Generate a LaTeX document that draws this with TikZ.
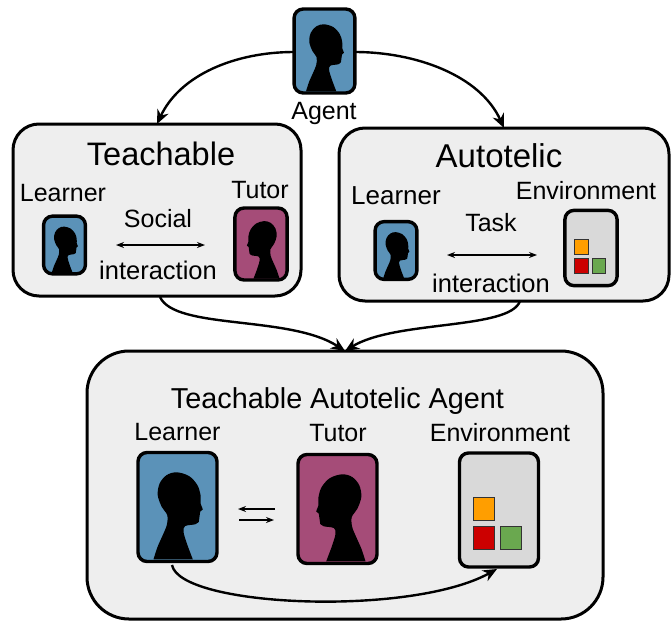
\documentclass[tikz,border=0pt]{standalone}
\usepackage{fontspec}
\setmainfont{Liberation Sans}
\usetikzlibrary{arrows.meta,calc}
\definecolor{learnerblue}{HTML}{5B92B8}
\definecolor{tutorpurple}{HTML}{A54C78}
\definecolor{envgray}{HTML}{D9D9D9}
\definecolor{panelgray}{HTML}{EEEEEE}
\definecolor{cubeorange}{HTML}{FF9E00}
\definecolor{cubered}{HTML}{CC0000}
\definecolor{cubegreen}{HTML}{6AA84F}
\tikzset{
  panel/.style={draw=black,fill=panelgray,line width=3pt,inner sep=0pt,outer sep=0pt},
  card/.style={draw=black,line width=3.4pt,rounded corners=9pt,inner sep=0pt,outer sep=0pt},
  cube/.style={draw=black!80,line width=.9pt,inner sep=0pt,outer sep=0pt},
  lab/.style={anchor=base,inner sep=0pt,font=\fontsize{25}{25}\selectfont},
  flow/.style={line width=2.4pt,-{Stealth[length=14pt,width=12pt]}},
  link/.style={line width=1.5pt,{Stealth[length=8pt,width=6pt]}-{Stealth[length=8pt,width=6pt]}},
  onelink/.style={line width=1.5pt,-{Stealth[length=8pt,width=6pt]}}
}
\newcommand{\headshape}{%
  \fill[black] plot[smooth,tension=.55] coordinates {(-24,52.3) (-20,40) (-14.7,28) (-10.7,18) (-10.3,8) (-15.7,0) (-19.8,-12) (-17.8,-23.7) (-10.7,-32) (-.7,-34.7) (11.5,-31) (19.8,-22) (23,-12) (23,-3.7)}
   -- (25.3,2.3) -- (22.7,4.7) -- plot[smooth,tension=.55] coordinates {(21.3,14.7) (17.7,17.3) (7.7,19) (6,24.7) (9.3,36.3) (15.3,52.3)} -- cycle;}
% name, cx, cy, scale, colour, x-direction
\newcommand{\personcard}[6]{%
  \node[card,fill=#5,minimum width={#4*79pt},minimum height={#4*109pt}] (#1) at (#2,#3) {};
  \begin{scope}[shift={({#2+(1-#6)*2*#4},#3)},xscale={#4*#6},yscale=#4]\headshape\end{scope}%
}
% name, cx, cy, scale
\newcommand{\envcard}[4]{%
  \node[card,fill=envgray,minimum width={#4*79pt},minimum height={#4*114pt}] (#1) at (#2,#3) {};
  \begin{scope}[shift={(#2,#3)},scale=#4]
    \node[cube,fill=cubeorange,minimum width={#4*21pt},minimum height={#4*23pt}] (#1o) at (-15,-1.5) {};
    \node[cube,fill=cubered,minimum width={#4*21pt},minimum height={#4*23pt}] (#1r) at (-15,27.5) {};
    \node[cube,fill=cubegreen,minimum width={#4*21pt},minimum height={#4*23pt}] (#1g) at (12,27.5) {};
  \end{scope}%
}
\begin{document}
\begin{tikzpicture}[x=1pt,y=-1pt]
\useasboundingbox (0,0) rectangle (671,621);
% panels
\node[panel,rounded corners=26pt,minimum width=288pt,minimum height=172pt] (teach) at (157,210) {};
\node[panel,rounded corners=26pt,minimum width=330pt,minimum height=173pt] (auto) at (504,214.5) {};
\node[panel,rounded corners=42pt,minimum width=516pt,minimum height=268pt] (taa) at (345,485) {};
% top
\personcard{agent}{324.5}{51}{.77}{learnerblue}{1}
\node[lab] (agentlab) at (324,119) {Agent};
% teachable
\node[lab,font=\fontsize{32.5}{32.5}\selectfont] (teachlab) at (161,165) {Teachable};
\node[lab] (tl1) at (63,201) {Learner};
\node[lab] (tl2) at (260,198) {Tutor};
\node[lab] (tsoc) at (158,227) {Social};
\node[lab,font=\fontsize{25.5}{25.5}\selectfont] (tint) at (158,279) {interaction};
\personcard{tlearner}{64.5}{245}{.53}{learnerblue}{1}
\personcard{ttutor}{261}{244}{.66}{tutorpurple}{-1}
\coordinate (tla) at (116,245);
\coordinate (tlb) at (205,245);
\draw[link] (tla) -- (tlb);
% autotelic
\node[lab,font=\fontsize{33}{33}\selectfont] (autolab) at (499,167) {Autotelic};
\node[lab,font=\fontsize{26}{26}\selectfont] (al1) at (396,204) {Learner};
\node[lab] (al2) at (586,199) {Environment};
\node[lab] (atask) at (491,231) {Task};
\node[lab,font=\fontsize{25.5}{25.5}\selectfont] (aint) at (491,292) {interaction};
\personcard{alearner}{396}{250.5}{.53}{learnerblue}{1}
\envcard{aenv}{591}{248}{.66}
\coordinate (ala) at (447,255);
\coordinate (alb) at (537,255);
\draw[link] (ala) -- (alb);
% bottom
\node[lab,font=\fontsize{28.8}{28.8}\selectfont] (taalab) at (337.5,408) {Teachable Autotelic Agent};
\node[lab] (bl1) at (177.5,440) {Learner};
\node[lab] (bl2) at (338,441) {Tutor};
\node[lab] (bl3) at (500,441) {Environment};
\personcard{blearner}{177.5}{507}{1}{learnerblue}{1}
\personcard{btutor}{337.5}{509}{1}{tutorpurple}{-1}
\envcard{benv}{499}{510}{1}
\coordinate (bla) at (275,509);
\coordinate (blb) at (238,509);
\coordinate (blc) at (239,520);
\coordinate (bld) at (274,520);
\draw[onelink] (bla) -- (blb);
\draw[onelink] (blc) -- (bld);
% connectors
\draw[flow] (agent.west) ++(0,1) .. controls (235,52) and (180,75) .. (teach.north);
\draw[flow] (agent.east) ++(0,1) .. controls (415,52) and (480,75) .. (auto.north);
\coordinate (tout) at (160,297);
\coordinate (aout) at (520,301);
\draw[flow] (tout) .. controls (175,330) and (290,315) .. (taa.north);
\draw[flow] (aout) .. controls (510,330) and (395,320) .. (taa.north);
\coordinate (bout) at (172,565);
\coordinate (bin) at (497,569);
\draw[flow] (bout) .. controls (180,607) and (410,617) .. (bin);
\end{tikzpicture}
\end{document}
